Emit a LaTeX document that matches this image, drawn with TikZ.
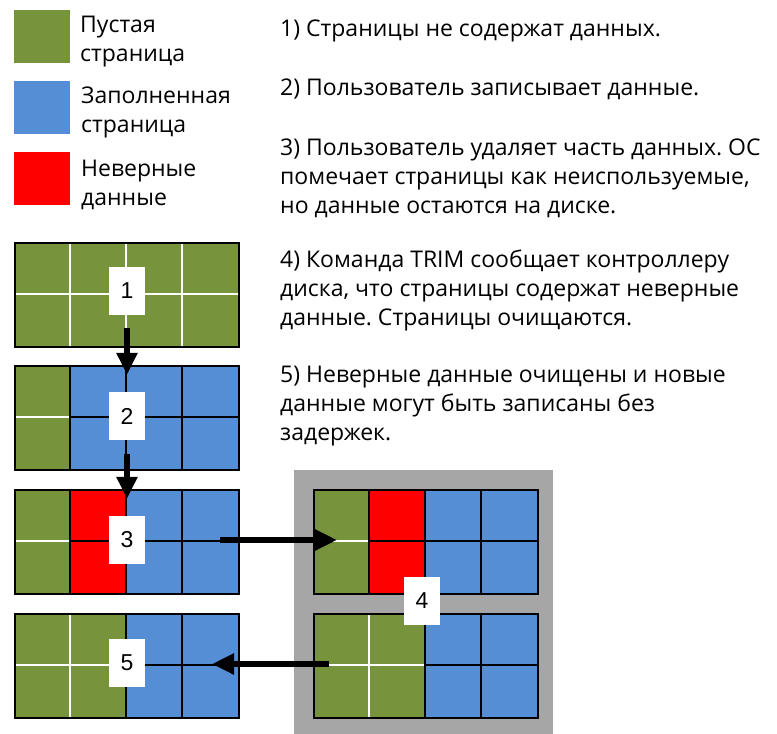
\documentclass[tikz,border=0pt]{standalone}
\usepackage{fontspec}
\setmainfont{Open Sans}
\newfontfamily\numfont{Liberation Sans}
\usetikzlibrary{arrows.meta}
\definecolor{pgreen}{RGB}{119,147,60}
\definecolor{pblue}{RGB}{85,142,213}
\definecolor{pred}{RGB}{255,0,0}
\definecolor{pgray}{RGB}{166,166,166}
\newcommand\pcol[3]{\fill[#2] ({#1*56},0) rectangle ({#1*56+56},104);
  \draw[#3,gline] ({#1*56},52) -- ({#1*56+56},52);}
\newcommand\pvl[2]{\draw[#2,gline] ({#1*56},0) -- ({#1*56},104);}
\frenchspacing
\begin{document}
\begin{tikzpicture}[x=1pt,y=-1pt,
 gline/.style={line width=2pt},
 gridframe/.style={draw=black,line width=2pt,minimum width=224pt,minimum height=104pt,inner sep=0pt,anchor=north west},
 numbox/.style={fill=white,minimum width=36pt,minimum height=48pt,inner sep=0pt,font=\numfont\fontsize{23}{23}\selectfont},
 desc/.style={anchor=base west,inner sep=0pt,font=\fontsize{23}{27}\selectfont},
 flow/.style={line width=6pt,-{Triangle[length=22pt,width=20pt]}},
 swatch/.style={minimum width=56pt,minimum height=53pt,inner sep=0pt,anchor=north west}]
\useasboundingbox (0,0) rectangle (777,734);
\fill[white] (0,0) rectangle (777,734);
% legend
\node[swatch,fill=pgreen] (sw1) at (14,10) {};
\node[swatch,fill=pblue] (sw2) at (14,81) {};
\node[swatch,fill=pred] (sw3) at (14,152) {};
\node[desc] (l1a) at (80,32) {Пустая};
\node[desc] (l1b) at (80,61) {страница};
\node[desc] (l2a) at (81,103) {Заполненная};
\node[desc] (l2b) at (81,132) {страница};
\node[desc] (l3a) at (81,176) {Неверные};
\node[desc] (l3b) at (81,205) {данные};
% description
\node[desc] (t1) at (280,36) {1) Страницы не содержат данных.};
\node[desc] (t2) at (280,95) {2) Пользователь записывает данные.};
\node[desc] (t3a) at (280,155) {3) Пользователь удаляет часть данных. ОС};
\node[desc] (t3b) at (280,184) {помечает страницы как неиспользуемые,};
\node[desc] (t3c) at (280,213) {но данные остаются на диске.};
\node[desc] (t4a) at (280,267) {4) Команда TRIM сообщает контроллеру};
\node[desc] (t4b) at (280,296) {диска, что страницы содержат неверные};
\node[desc] (t4c) at (280,325) {данные. Страницы очищаются.};
\node[desc] (t5a) at (280,382) {5) Неверные данные очищены и новые};
\node[desc] (t5b) at (280,411) {данные могут быть записаны без};
\node[desc] (t5c) at (280,440) {задержек.};
% gray tray
\fill[pgray] (294,470) rectangle (553,734);
% grid 1
\begin{scope}[shift={(14,242)}]
 \pcol{0}{pgreen}{white}\pcol{1}{pgreen}{white}\pcol{2}{pgreen}{white}\pcol{3}{pgreen}{white}
 \pvl{1}{white}\pvl{2}{white}\pvl{3}{white}
\end{scope}
\node[gridframe] (g1) at (14,242) {};
% grid 2
\begin{scope}[shift={(14,365)}]
 \pcol{0}{pgreen}{white}\pcol{1}{pblue}{black}\pcol{2}{pblue}{black}\pcol{3}{pblue}{black}
 \pvl{1}{black}\pvl{2}{black}\pvl{3}{black}
\end{scope}
\node[gridframe] (g2) at (14,365) {};
% grid 3
\begin{scope}[shift={(14,489)}]
 \pcol{0}{pgreen}{white}\pcol{1}{pred}{black}\pcol{2}{pblue}{black}\pcol{3}{pblue}{black}
 \pvl{1}{black}\pvl{2}{black}\pvl{3}{black}
\end{scope}
\node[gridframe] (g3) at (14,489) {};
% grid 5
\begin{scope}[shift={(14,613)}]
 \pcol{0}{pgreen}{white}\pcol{1}{pgreen}{white}\pcol{2}{pblue}{black}\pcol{3}{pblue}{black}
 \pvl{1}{white}\pvl{2}{black}\pvl{3}{black}
\end{scope}
\node[gridframe] (g5) at (14,613) {};
% grid 4a
\begin{scope}[shift={(313,489)}]
 \pcol{0}{pgreen}{white}\pcol{1}{pred}{black}\pcol{2}{pblue}{black}\pcol{3}{pblue}{black}
 \pvl{1}{black}\pvl{2}{black}\pvl{3}{black}
\end{scope}
\node[gridframe] (g4a) at (313,489) {};
% grid 4b
\begin{scope}[shift={(313,613)}]
 \pcol{0}{pgreen}{white}\pcol{1}{pgreen}{white}\pcol{2}{pblue}{black}\pcol{3}{pblue}{black}
 \pvl{1}{white}\pvl{2}{black}\pvl{3}{black}
\end{scope}
\node[gridframe] (g4b) at (313,613) {};
% number boxes
\node[numbox] (b1) at (127,291) {1};
\node[numbox] (b2) at (127,416) {2};
\node[numbox] (b3) at (127,540) {3};
\node[numbox] (b4) at (422,601) {4};
\node[numbox] (b5) at (127,663) {5};
% arrows
\coordinate (a34s) at (220,540);
\coordinate (a34e) at (337,540);
\coordinate (a45s) at (329,664);
\coordinate (a45e) at (212,664);
\draw[flow,shorten <=13pt,shorten >=17pt] (b1.south) -- (b2.north);
\draw[flow,shorten <=14pt,shorten >=17pt] (b2.south) -- (b3.north);
\draw[flow] (a34s) -- (a34e);
\draw[flow] (a45s) -- (a45e);
\end{tikzpicture}
\end{document}
